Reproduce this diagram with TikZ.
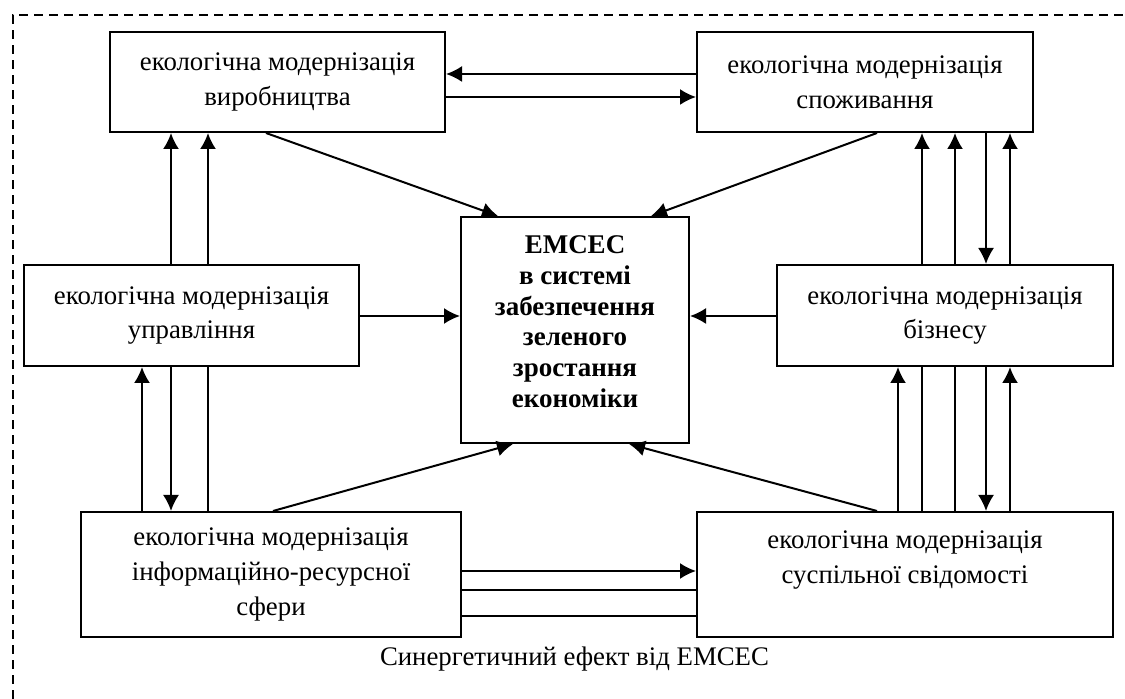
\documentclass[tikz,border=0pt]{standalone}
\usepackage{fontspec}
\setmainfont{Liberation Serif}
\usetikzlibrary{arrows.meta}

\begin{document}
\begin{tikzpicture}[x=0.5pt, y=-0.5pt, box/.style={draw, rectangle, line width=1pt, align=center, inner sep=0pt, font=\fontsize{13.4}{17.3}\selectfont}, n/.style={-{Latex[length=8pt, width=8pt]}, line width=1pt}, l/.style={line width=1pt}]
                \useasboundingbox (0,0) rectangle (1125,699);
                % frame
                \draw[dash pattern=on 4.5pt off 3pt, line width=0.7pt] (13,699) -- (13,15) -- (1125,15);
                % nodes
                \node[box, minimum width=167.5pt, minimum height=50pt] (vyr) at (277.5,82) {екологічна модернізація\\виробництва};
                \node[box, minimum width=168pt, minimum height=50pt] (spozh) at (865,82) {екологічна модернізація\\споживання};
                \node[box, minimum width=167.5pt, minimum height=50.5pt] (upr) at (191.5,315.5) {екологічна модернізація\\управління};
                \node[box, minimum width=168pt, minimum height=50.5pt] (biz) at (945,315.5) {екологічна модернізація\\бізнесу};
                \node[box, minimum width=114pt, minimum height=113pt, font=\bfseries\fontsize{13.5}{15.4}\selectfont] (emsec) at (575,330) {ЕМСЕС\\в системі\\забезпечення\\зеленого\\зростання\\економіки\\[-7pt]\mbox{}};
                \node[box, minimum width=190pt, minimum height=62.5pt] (inf) at (271,574.5) {екологічна модернізація\\інформаційно-ресурсної\\сфери};
                \node[box, minimum width=208pt, minimum height=62.5pt] (susp) at (905,574.5) {екологічна модернізація\\суспільної свідомості\\\mbox{}};
                \node[font=\fontsize{13.4}{17.3}\selectfont] (syn) at (574.5,659) {Синергетичний ефект від ЕМСЕС};
                % columns and rows
                \coordinate (c1) at (142,0);
                \coordinate (c2) at (171,0);
                \coordinate (c3) at (208,0);
                \coordinate (c4) at (898,0);
                \coordinate (c5) at (922,0);
                \coordinate (c6) at (955,0);
                \coordinate (c7) at (986,0);
                \coordinate (c8) at (1010,0);
                \coordinate (r1) at (0,74);
                \coordinate (r2) at (0,97);
                \coordinate (r3) at (0,316);
                \coordinate (r4) at (0,571);
                \coordinate (r5) at (0,590);
                \coordinate (r6) at (0,616);
                \coordinate (d1) at (266,0);
                \coordinate (d2) at (498,0);
                \coordinate (d3) at (877,0);
                \coordinate (d4) at (651,0);
                \coordinate (d5) at (273,0);
                \coordinate (d6) at (513,0);
                \coordinate (d7) at (629,0);
                % edges
                \draw [n] (spozh.west |- r1) -- (vyr.east |- r1);
                \draw [n] (vyr.east |- r2) -- (spozh.west |- r2);
                \draw [n] (vyr.south -| d1) -- (emsec.north -| d2);
                \draw [n] (spozh.south -| d3) -- (emsec.north -| d4);
                \draw [n] (upr.east |- r3) -- (emsec.west |- r3);
                \draw [n] (biz.west |- r3) -- (emsec.east |- r3);
                \draw [n] (inf.north -| d5) -- (emsec.south -| d6);
                \draw [n] (susp.north -| d3) -- (emsec.south -| d7);
                \draw [n] (upr.north -| c2) -- (vyr.south -| c2);
                \draw [n] (upr.north -| c3) -- (vyr.south -| c3);
                \draw [n] (inf.north -| c1) -- (upr.south -| c1);
                \draw [n] (upr.south -| c2) -- (inf.north -| c2);
                \draw [l] (upr.south -| c3) -- (inf.north -| c3);
                \draw [n] (biz.north -| c5) -- (spozh.south -| c5);
                \draw [n] (biz.north -| c6) -- (spozh.south -| c6);
                \draw [n] (spozh.south -| c7) -- (biz.north -| c7);
                \draw [n] (biz.north -| c8) -- (spozh.south -| c8);
                \draw [n] (susp.north -| c4) -- (biz.south -| c4);
                \draw [l] (susp.north -| c5) -- (biz.south -| c5);
                \draw [l] (susp.north -| c6) -- (biz.south -| c6);
                \draw [n] (biz.south -| c7) -- (susp.north -| c7);
                \draw [n] (susp.north -| c8) -- (biz.south -| c8);
                \draw [n] (inf.east |- r4) -- (susp.west |- r4);
                \draw [l] (inf.east |- r5) -- (susp.west |- r5);
                \draw [l] (inf.east |- r6) -- (susp.west |- r6);
            \end{tikzpicture}
\end{document}
